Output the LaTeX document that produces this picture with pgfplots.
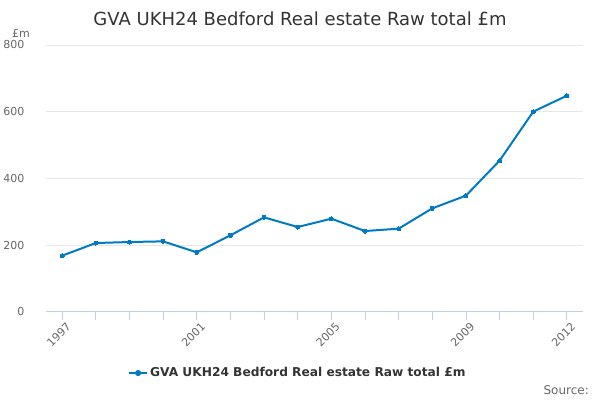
\documentclass[border=0pt]{standalone}
\usepackage{pgfplots}
\pgfplotsset{compat=1.18}
\usepackage{fontspec}
\setmainfont{DejaVu Sans}
\definecolor{linec}{RGB}{0,122,195}
\definecolor{gridc}{RGB}{230,230,230}
\definecolor{axisc}{RGB}{192,208,224}
\definecolor{tickc}{RGB}{102,102,102}
\definecolor{titlec}{RGB}{51,51,51}
\begin{document}
\begin{tikzpicture}
\path[use as bounding box] (0,0) rectangle (600bp,400bp);
\begin{axis}[
  at={(46bp,88.3bp)}, anchor=south west,
  scale only axis, width=537bp, height=266.7bp,
  xmin=1996.52, xmax=2012.48, ymin=0, ymax=800,
  axis x line*=bottom, axis y line*=left,
  x axis line style={draw=axisc, line width=0.8bp, -},
  y axis line style={draw=none},
  xtick={1997,2001,2005,2009,2012},
  minor xtick={1998,1999,2000,2002,2003,2004,2006,2007,2008,2010,2011},
  ytick={0,200,400,600,800},
  tick align=outside,
  x tick style={draw=axisc, line width=0.8bp},
  y tick style={draw=none},
  major tick length=8bp, minor tick length=8bp,
  ymajorgrids, grid style={draw=gridc, line width=0.8bp},
  /pgf/number format/assume math mode=true,
  /pgf/number format/1000 sep={},
  ticklabel style={font=\fontsize{11bp}{13bp}\selectfont, text=tickc},
  xticklabel style={rotate=45, anchor=north east, inner sep=1bp, xshift=2bp, yshift=-3bp},
  yticklabel style={anchor=east, xshift=-10bp},
  legend style={at={(axis description cs:0.469,-0.23)}, anchor=center, draw=none, fill=none,
     font=\fontsize{12.2bp}{14bp}\selectfont\bfseries, text=titlec},
  legend image code/.code={\draw[linec, line width=2bp] (-2bp,0bp) -- (16bp,0bp); \fill[linec] (7bp,0bp) circle (2bp);},
  clip=false,
]
\addplot[linec, line width=2bp, mark=*, mark size=2bp, mark options={fill=linec, draw=linec, line width=0pt}]
 coordinates {
 (1997,168) (1998,206) (1999,209) (2000,211) (2001,178) (2002,229) (2003,283) (2004,254)
 (2005,279) (2006,242) (2007,249) (2008,310) (2009,348) (2010,453) (2011,600) (2012,648)
 };
\addlegendentry{GVA UKH24 Bedford Real estate Raw total £m}
\node[anchor=south east, inner sep=0pt, font=\fontsize{11bp}{13bp}\selectfont, text=tickc] at (rel axis cs:0,1) [xshift=-16bp, yshift=7bp] {£m};
\end{axis}
\node[font=\fontsize{18bp}{21bp}\selectfont, text=titlec] at (300bp,381bp) {GVA UKH24 Bedford Real estate Raw total £m};
\node[anchor=east, font=\fontsize{12bp}{14bp}\selectfont, text=tickc, inner sep=0pt] at (589bp,10bp) {Source:};
\end{tikzpicture}
\end{document}
